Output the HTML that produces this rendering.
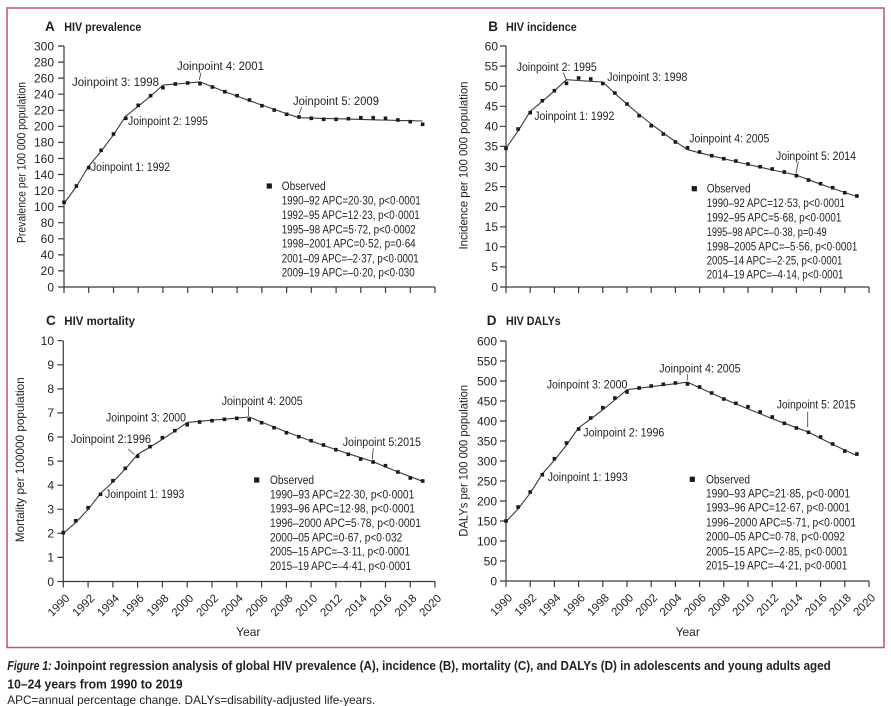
<!DOCTYPE html>
<html><head><meta charset="utf-8"><style>
html,body{margin:0;padding:0;background:#fff}
svg{display:block}
text{font-family:"Liberation Sans","DejaVu Sans",sans-serif;fill:#231f20}
.t{font-size:12px}
.tl{font-size:11.5px}
.ti{font-size:13.5px;font-weight:bold}
.tt{font-size:11.5px;font-weight:bold}
.ax{stroke:#3a3a3a;stroke-width:1.2;fill:none}
.ln{stroke:#3a3a3a;stroke-width:1.1;fill:none;stroke-linejoin:round}
.ld{stroke:#3a3a3a;stroke-width:0.8}
</style></head><body>
<svg width="891" height="706" viewBox="0 0 891 706" xmlns="http://www.w3.org/2000/svg" xmlns:xlink="http://www.w3.org/1999/xlink">
<defs>
<rect id="m" x="-1.8" y="-1.8" width="3.6" height="3.6" fill="#1a1a1a"/>
<rect id="lm" x="-2.6" y="-2.6" width="5.2" height="5.2" fill="#1a1a1a"/>
</defs>
<rect x="0" y="0" width="891" height="706" fill="#fff"/>
<rect x="7" y="8" width="877" height="639.5" fill="none" stroke="#c4506e" stroke-width="1.5"/>

<!-- ================= PANEL A ================= -->
<text x="45" y="31" class="ti">A</text>
<text x="64.3" y="31" class="tt" textLength="77" lengthAdjust="spacingAndGlyphs">HIV prevalence</text>
<text class="t" transform="translate(25.7,162.5) rotate(-90)" text-anchor="middle" textLength="161" lengthAdjust="spacingAndGlyphs">Prevalence per 100 000 population</text>
<path class="ax" d="M64 46V287H435"/>
<path class="ax" d="M58 287h6M58 270.9h6M58 254.9h6M58 238.8h6M58 222.7h6M58 206.7h6M58 190.6h6M58 174.5h6M58 158.5h6M58 142.4h6M58 126.3h6M58 110.3h6M58 94.2h6M58 78.1h6M58 62.1h6M58 46h6"/>
<path class="ax" d="M64 287v6M88.7 287v6M113.5 287v6M138.2 287v6M162.9 287v6M187.7 287v6M212.4 287v6M237.1 287v6M261.9 287v6M286.6 287v6M311.3 287v6M336.1 287v6M360.8 287v6M385.5 287v6M410.3 287v6M435 287v6"/>
<g class="t" text-anchor="end">
<text x="54" y="291.3">0</text><text x="54" y="275.2">20</text><text x="54" y="259.2">40</text><text x="54" y="243.1">60</text><text x="54" y="227">80</text><text x="54" y="211">100</text><text x="54" y="194.9">120</text><text x="54" y="178.8">140</text><text x="54" y="162.8">160</text><text x="54" y="146.7">180</text><text x="54" y="130.6">200</text><text x="54" y="114.6">220</text><text x="54" y="98.5">240</text><text x="54" y="82.4">260</text><text x="54" y="66.4">280</text><text x="54" y="50.3">300</text>
</g>
<polyline class="ln" points="64,203.5 76.4,186.5 88.7,166.1 101.1,151.3 113.5,134.8 125.8,116.1 138.2,106.3 150.6,96.1 162.9,85.1 175.3,84.1 187.7,83 200,81.9 212.4,86.8 224.8,91.6 237.1,96.1 249.5,100.7 261.9,105.1 274.2,109.4 286.6,113.6 299,117.7 311.3,118.1 323.7,118.4 336.1,118.7 348.4,119.1 360.8,119.4 373.2,119.8 385.5,120.1 397.9,120.4 410.3,120.7 422.6,121"/>
<g>
<use xlink:href="#m" x="64" y="202.3"/><use xlink:href="#m" x="76.4" y="186"/><use xlink:href="#m" x="88.7" y="167.7"/><use xlink:href="#m" x="101.1" y="150.3"/><use xlink:href="#m" x="113.5" y="134"/><use xlink:href="#m" x="125.8" y="118.3"/><use xlink:href="#m" x="138.2" y="105.3"/><use xlink:href="#m" x="150.6" y="95.7"/><use xlink:href="#m" x="162.9" y="87.7"/><use xlink:href="#m" x="175.3" y="84"/><use xlink:href="#m" x="187.7" y="83"/><use xlink:href="#m" x="200" y="83.7"/><use xlink:href="#m" x="212.4" y="87"/><use xlink:href="#m" x="224.8" y="91.7"/><use xlink:href="#m" x="237.1" y="95.7"/><use xlink:href="#m" x="249.5" y="100"/><use xlink:href="#m" x="261.9" y="105.7"/><use xlink:href="#m" x="274.2" y="110"/><use xlink:href="#m" x="286.6" y="114.3"/><use xlink:href="#m" x="299" y="117"/><use xlink:href="#m" x="311.3" y="118.3"/><use xlink:href="#m" x="323.7" y="119.3"/><use xlink:href="#m" x="336.1" y="119.3"/><use xlink:href="#m" x="348.4" y="118.7"/><use xlink:href="#m" x="360.8" y="117.7"/><use xlink:href="#m" x="373.2" y="117.7"/><use xlink:href="#m" x="385.5" y="118.3"/><use xlink:href="#m" x="397.9" y="120"/><use xlink:href="#m" x="410.3" y="121.7"/><use xlink:href="#m" x="422.6" y="124.3"/>
</g>
<g class="tl">
<text x="91" y="171" textLength="79" lengthAdjust="spacingAndGlyphs">Joinpoint 1: 1992</text>
<text x="128" y="125" textLength="80" lengthAdjust="spacingAndGlyphs">Joinpoint 2: 1995</text>
<text x="72" y="86" textLength="87" lengthAdjust="spacingAndGlyphs">Joinpoint 3: 1998</text>
<text x="177" y="70" textLength="87" lengthAdjust="spacingAndGlyphs">Joinpoint 4: 2001</text>
<text x="293" y="105" textLength="86" lengthAdjust="spacingAndGlyphs">Joinpoint 5: 2009</text>
</g>
<path class="ld" d="M201 72.7L199.3 80M301.7 107L299.3 114"/>
<use xlink:href="#lm" x="269.3" y="186"/>
<g class="tl">
<text x="281.7" y="190" textLength="44" lengthAdjust="spacingAndGlyphs">Observed</text>
<text x="281.7" y="204.7" textLength="139" lengthAdjust="spacingAndGlyphs">1990–92 APC=20·30, p&lt;0·0001</text>
<text x="281.7" y="219" textLength="138" lengthAdjust="spacingAndGlyphs">1992–95 APC=12·23, p&lt;0·0001</text>
<text x="281.7" y="233.3" textLength="134" lengthAdjust="spacingAndGlyphs">1995–98 APC=5·72, p&lt;0·0002</text>
<text x="281.7" y="247.7" textLength="134" lengthAdjust="spacingAndGlyphs">1998–2001 APC=0·52, p=0·64</text>
<text x="281.7" y="262.3" textLength="137" lengthAdjust="spacingAndGlyphs">2001–09 APC=–2·37, p&lt;0·0001</text>
<text x="281.7" y="276.3" textLength="133" lengthAdjust="spacingAndGlyphs">2009–19 APC=–0·20, p&lt;0·030</text>
</g>

<!-- ================= PANEL B ================= -->
<text x="488.3" y="31" class="ti">B</text>
<text x="506" y="31" class="tt" textLength="70.7" lengthAdjust="spacingAndGlyphs">HIV incidence</text>
<text class="t" transform="translate(467.3,165.5) rotate(-90)" text-anchor="middle" textLength="168" lengthAdjust="spacingAndGlyphs">Incidence per 100 000 population</text>
<path class="ax" d="M506 46V287H869"/>
<path class="ax" d="M500 287h6M500 266.9h6M500 246.8h6M500 226.8h6M500 206.7h6M500 186.6h6M500 166.5h6M500 146.4h6M500 126.3h6M500 106.3h6M500 86.2h6M500 66.1h6M500 46h6"/>
<path class="ax" d="M506 287v6M530.2 287v6M554.4 287v6M578.6 287v6M602.8 287v6M627 287v6M651.2 287v6M675.4 287v6M699.6 287v6M723.8 287v6M748 287v6M772.2 287v6M796.4 287v6M820.6 287v6M844.8 287v6M869 287v6"/>
<g class="t" text-anchor="end">
<text x="498" y="291.3">0</text><text x="498" y="271.2">5</text><text x="498" y="251.1">10</text><text x="498" y="231.1">15</text><text x="498" y="211">20</text><text x="498" y="190.9">25</text><text x="498" y="170.8">30</text><text x="498" y="150.7">35</text><text x="498" y="130.6">40</text><text x="498" y="110.6">45</text><text x="498" y="90.5">50</text><text x="498" y="70.4">55</text><text x="498" y="50.3">60</text>
</g>
<polyline class="ln" points="506,148.3 518.1,130.9 530.2,111.3 542.3,101.4 554.4,90.8 566.5,79.7 578.6,80.5 590.7,81.3 602.8,82 614.9,93.4 627,104.2 639.1,114.4 651.2,124 663.3,133 675.4,141.6 687.5,149.7 699.6,152.8 711.7,155.8 723.8,158.7 735.9,161.6 748,164.5 760.1,167.2 772.2,169.9 784.3,172.5 796.4,175.1 808.5,179.7 820.6,184.2 832.7,188.4 844.8,192.5 856.9,196.5"/>
<g>
<use xlink:href="#m" x="506" y="148.3"/><use xlink:href="#m" x="518.1" y="129"/><use xlink:href="#m" x="530.2" y="112.7"/><use xlink:href="#m" x="542.3" y="100.7"/><use xlink:href="#m" x="554.4" y="90.7"/><use xlink:href="#m" x="566.5" y="83.3"/><use xlink:href="#m" x="578.6" y="78"/><use xlink:href="#m" x="590.7" y="79"/><use xlink:href="#m" x="602.8" y="83.5"/><use xlink:href="#m" x="614.9" y="93"/><use xlink:href="#m" x="627" y="104"/><use xlink:href="#m" x="639.1" y="115.7"/><use xlink:href="#m" x="651.2" y="125.7"/><use xlink:href="#m" x="663.3" y="134"/><use xlink:href="#m" x="675.4" y="142"/><use xlink:href="#m" x="687.5" y="147.7"/><use xlink:href="#m" x="699.6" y="152"/><use xlink:href="#m" x="711.7" y="155.7"/><use xlink:href="#m" x="723.8" y="158.7"/><use xlink:href="#m" x="735.9" y="161"/><use xlink:href="#m" x="748" y="164"/><use xlink:href="#m" x="760.1" y="166.7"/><use xlink:href="#m" x="772.2" y="169"/><use xlink:href="#m" x="784.3" y="172"/><use xlink:href="#m" x="796.4" y="175.7"/><use xlink:href="#m" x="808.5" y="180"/><use xlink:href="#m" x="820.6" y="183.7"/><use xlink:href="#m" x="832.7" y="187.7"/><use xlink:href="#m" x="844.8" y="192.7"/><use xlink:href="#m" x="856.9" y="196"/>
</g>
<g class="tl">
<text x="534.3" y="120" textLength="80" lengthAdjust="spacingAndGlyphs">Joinpoint 1: 1992</text>
<text x="516.7" y="71" textLength="80" lengthAdjust="spacingAndGlyphs">Joinpoint 2: 1995</text>
<text x="607.3" y="81" textLength="80" lengthAdjust="spacingAndGlyphs">Joinpoint 3: 1998</text>
<text x="689.3" y="142.5" textLength="80" lengthAdjust="spacingAndGlyphs">Joinpoint 4: 2005</text>
<text x="776" y="160" textLength="80" lengthAdjust="spacingAndGlyphs">Joinpoint 5: 2014</text>
</g>
<path class="ld" d="M563.3 72.7L566 79.3M798.3 161.7L796 173.3"/>
<use xlink:href="#lm" x="694.3" y="188.7"/>
<g class="tl">
<text x="706.7" y="192.5" textLength="44" lengthAdjust="spacingAndGlyphs">Observed</text>
<text x="706.7" y="207" textLength="138.3" lengthAdjust="spacingAndGlyphs">1990–92 APC=12·53, p&lt;0·0001</text>
<text x="706.7" y="221.3" textLength="134.7" lengthAdjust="spacingAndGlyphs">1992–95 APC=5·68, p&lt;0·0001</text>
<text x="706.7" y="236" textLength="120" lengthAdjust="spacingAndGlyphs">1995–98 APC=–0·38, p=0·49</text>
<text x="706.7" y="250.7" textLength="150.7" lengthAdjust="spacingAndGlyphs">1998–2005 APC=–5·56, p&lt;0·0001</text>
<text x="706.7" y="264.7" textLength="135.7" lengthAdjust="spacingAndGlyphs">2005–14 APC=–2·25, p&lt;0·0001</text>
<text x="706.7" y="278.7" textLength="136.7" lengthAdjust="spacingAndGlyphs">2014–19 APC=–4·14, p&lt;0·0001</text>
</g>

<!-- ================= PANEL C ================= -->
<text x="46" y="325" class="ti">C</text>
<text x="64.3" y="325" class="tt" textLength="70.7" lengthAdjust="spacingAndGlyphs">HIV mortality</text>
<text class="t" transform="translate(24,459.8) rotate(-90)" text-anchor="middle" textLength="165" lengthAdjust="spacingAndGlyphs">Mortality per 100000 population</text>
<path class="ax" d="M63.3 340.7V581.5H435"/>
<path class="ax" d="M57.5 581.5h5.8M57.5 557.4h5.8M57.5 533.3h5.8M57.5 509.3h5.8M57.5 485.2h5.8M57.5 461.1h5.8M57.5 437h5.8M57.5 412.9h5.8M57.5 388.9h5.8M57.5 364.8h5.8M57.5 340.7h5.8"/>
<path class="ax" d="M63.3 581.5v6M88.1 581.5v6M112.9 581.5v6M137.6 581.5v6M162.4 581.5v6M187.2 581.5v6M212 581.5v6M236.8 581.5v6M261.6 581.5v6M286.4 581.5v6M311.1 581.5v6M335.9 581.5v6M360.7 581.5v6M385.5 581.5v6M410.3 581.5v6M435 581.5v6"/>
<g class="t" text-anchor="end">
<text x="54" y="585.8">0</text><text x="54" y="561.7">1</text><text x="54" y="537.6">2</text><text x="54" y="513.6">3</text><text x="54" y="489.5">4</text><text x="54" y="465.4">5</text><text x="54" y="441.3">6</text><text x="54" y="417.2">7</text><text x="54" y="393.2">8</text><text x="54" y="369.1">9</text><text x="54" y="345">10</text>
</g>
<g class="tl" text-anchor="end">
<text transform="translate(70.3,599) rotate(-45)">1990</text>
<text transform="translate(95.1,599) rotate(-45)">1992</text>
<text transform="translate(119.9,599) rotate(-45)">1994</text>
<text transform="translate(144.6,599) rotate(-45)">1996</text>
<text transform="translate(169.4,599) rotate(-45)">1998</text>
<text transform="translate(194.2,599) rotate(-45)">2000</text>
<text transform="translate(219,599) rotate(-45)">2002</text>
<text transform="translate(243.8,599) rotate(-45)">2004</text>
<text transform="translate(268.6,599) rotate(-45)">2006</text>
<text transform="translate(293.4,599) rotate(-45)">2008</text>
<text transform="translate(318.1,599) rotate(-45)">2010</text>
<text transform="translate(342.9,599) rotate(-45)">2012</text>
<text transform="translate(367.7,599) rotate(-45)">2014</text>
<text transform="translate(392.5,599) rotate(-45)">2016</text>
<text transform="translate(417.3,599) rotate(-45)">2018</text>
<text transform="translate(442,599) rotate(-45)">2020</text>
</g>
<text x="248.3" y="636" class="t" text-anchor="middle">Year</text>
<polyline class="ln" points="63.3,533.3 75.7,522.6 88.1,509.5 100.5,493.4 112.9,482 125.3,469 137.6,454.4 150,447.1 162.4,439.3 174.8,431.1 187.2,422.4 199.6,421.3 212,420.2 224.4,419.2 236.8,418.1 249.2,417 261.6,422.1 274,427 286.4,431.9 298.8,436.5 311.1,441 323.5,445.4 335.9,449.6 348.3,453.7 360.7,457.7 373.1,461.6 385.5,466.9 397.9,471.9 410.3,476.7 422.7,481.3"/>
<g>
<use xlink:href="#m" x="63.3" y="532.7"/><use xlink:href="#m" x="75.7" y="520.7"/><use xlink:href="#m" x="88.1" y="507.7"/><use xlink:href="#m" x="100.5" y="494.3"/><use xlink:href="#m" x="112.9" y="480.7"/><use xlink:href="#m" x="125.3" y="468.3"/><use xlink:href="#m" x="137.6" y="456.3"/><use xlink:href="#m" x="150" y="446.7"/><use xlink:href="#m" x="162.4" y="437.7"/><use xlink:href="#m" x="174.8" y="430.7"/><use xlink:href="#m" x="187.2" y="424.7"/><use xlink:href="#m" x="199.6" y="422"/><use xlink:href="#m" x="212" y="420.7"/><use xlink:href="#m" x="224.4" y="419.3"/><use xlink:href="#m" x="236.8" y="418.3"/><use xlink:href="#m" x="249.2" y="419.7"/><use xlink:href="#m" x="261.6" y="422.7"/><use xlink:href="#m" x="274" y="427.7"/><use xlink:href="#m" x="286.4" y="432.7"/><use xlink:href="#m" x="298.8" y="436.7"/><use xlink:href="#m" x="311.1" y="440.7"/><use xlink:href="#m" x="323.5" y="445"/><use xlink:href="#m" x="335.9" y="449.7"/><use xlink:href="#m" x="348.3" y="454.3"/><use xlink:href="#m" x="360.7" y="459"/><use xlink:href="#m" x="373.1" y="462"/><use xlink:href="#m" x="385.5" y="465.7"/><use xlink:href="#m" x="397.9" y="472"/><use xlink:href="#m" x="410.3" y="478"/><use xlink:href="#m" x="422.7" y="481"/>
</g>
<g class="tl">
<text x="105" y="498" textLength="79.3" lengthAdjust="spacingAndGlyphs">Joinpoint 1: 1993</text>
<text x="70.7" y="443" textLength="80.3" lengthAdjust="spacingAndGlyphs">Joinpoint 2:1996</text>
<text x="106" y="421.5" textLength="80" lengthAdjust="spacingAndGlyphs">Joinpoint 3: 2000</text>
<text x="221.7" y="405" textLength="81" lengthAdjust="spacingAndGlyphs">Joinpoint 4: 2005</text>
<text x="342.7" y="446" textLength="78.3" lengthAdjust="spacingAndGlyphs">Joinpoint 5:2015</text>
</g>
<path class="ld" d="M128.3 449L134.3 454.5M248.5 406.5V416M373.3 448.3L372.3 459.3"/>
<use xlink:href="#lm" x="256.7" y="480"/>
<g class="tl">
<text x="270" y="484" textLength="44" lengthAdjust="spacingAndGlyphs">Observed</text>
<text x="270" y="498.3" textLength="144.3" lengthAdjust="spacingAndGlyphs">1990–93 APC=22·30, p&lt;0·0001</text>
<text x="270" y="512.7" textLength="145" lengthAdjust="spacingAndGlyphs">1993–96 APC=12·98, p&lt;0·0001</text>
<text x="270" y="527" textLength="151" lengthAdjust="spacingAndGlyphs">1996–2000 APC=5·78, p&lt;0·0001</text>
<text x="270" y="541.3" textLength="132.3" lengthAdjust="spacingAndGlyphs">2000–05 APC=0·67, p&lt;0·032</text>
<text x="270" y="555.7" textLength="140" lengthAdjust="spacingAndGlyphs">2005–15 APC=–3·11, p&lt;0·0001</text>
<text x="270" y="570" textLength="141" lengthAdjust="spacingAndGlyphs">2015–19 APC=–4·41, p&lt;0·0001</text>
</g>

<!-- ================= PANEL D ================= -->
<text x="486.7" y="325" class="ti">D</text>
<text x="506" y="325" class="tt" textLength="54.7" lengthAdjust="spacingAndGlyphs">HIV DALYs</text>
<text class="t" transform="translate(467.3,460.8) rotate(-90)" text-anchor="middle" textLength="151.7" lengthAdjust="spacingAndGlyphs">DALYs per 100 000 population</text>
<path class="ax" d="M506 341V581H869"/>
<path class="ax" d="M500 581h6M500 561h6M500 541h6M500 521h6M500 501h6M500 481h6M500 461h6M500 441h6M500 421h6M500 401h6M500 381h6M500 361h6M500 341h6"/>
<path class="ax" d="M506 581v6M530.2 581v6M554.4 581v6M578.6 581v6M602.8 581v6M627 581v6M651.2 581v6M675.4 581v6M699.6 581v6M723.8 581v6M748 581v6M772.2 581v6M796.4 581v6M820.6 581v6M844.8 581v6M869 581v6"/>
<g class="t" text-anchor="end">
<text x="497" y="585.3">0</text><text x="497" y="565.3">50</text><text x="497" y="545.3">100</text><text x="497" y="525.3">150</text><text x="497" y="505.3">200</text><text x="497" y="485.3">250</text><text x="497" y="465.3">300</text><text x="497" y="445.3">350</text><text x="497" y="425.3">400</text><text x="497" y="405.3">450</text><text x="497" y="385.3">500</text><text x="497" y="365.3">550</text><text x="497" y="345.3">600</text>
</g>
<g class="tl" text-anchor="end">
<text transform="translate(513,598.5) rotate(-45)">1990</text>
<text transform="translate(537.2,598.5) rotate(-45)">1992</text>
<text transform="translate(561.4,598.5) rotate(-45)">1994</text>
<text transform="translate(585.6,598.5) rotate(-45)">1996</text>
<text transform="translate(609.8,598.5) rotate(-45)">1998</text>
<text transform="translate(634,598.5) rotate(-45)">2000</text>
<text transform="translate(658.2,598.5) rotate(-45)">2002</text>
<text transform="translate(682.4,598.5) rotate(-45)">2004</text>
<text transform="translate(706.6,598.5) rotate(-45)">2006</text>
<text transform="translate(730.8,598.5) rotate(-45)">2008</text>
<text transform="translate(755,598.5) rotate(-45)">2010</text>
<text transform="translate(779.2,598.5) rotate(-45)">2012</text>
<text transform="translate(803.4,598.5) rotate(-45)">2014</text>
<text transform="translate(827.6,598.5) rotate(-45)">2016</text>
<text transform="translate(851.8,598.5) rotate(-45)">2018</text>
<text transform="translate(876,598.5) rotate(-45)">2020</text>
</g>
<text x="687.7" y="636" class="t" text-anchor="middle">Year</text>
<polyline class="ln" points="506,521.8 518.1,508.9 530.2,493.1 542.3,473.9 554.4,460.3 566.5,445 578.6,427.8 590.7,419 602.8,409.8 614.9,400 627,389.7 639.1,388.2 651.2,386.7 663.3,385.2 675.4,383.7 687.5,382.2 699.6,387.8 711.7,393.3 723.8,398.7 735.9,403.9 748,408.9 760.1,413.8 772.2,418.6 784.3,423.2 796.4,427.7 808.5,432.1 820.6,438.4 832.7,444.4 844.8,450.1 856.9,455.6"/>
<g>
<use xlink:href="#m" x="506" y="521"/><use xlink:href="#m" x="518.1" y="507"/><use xlink:href="#m" x="530.2" y="492"/><use xlink:href="#m" x="542.3" y="474.7"/><use xlink:href="#m" x="554.4" y="458.7"/><use xlink:href="#m" x="566.5" y="443"/><use xlink:href="#m" x="578.6" y="429"/><use xlink:href="#m" x="590.7" y="418"/><use xlink:href="#m" x="602.8" y="407.7"/><use xlink:href="#m" x="614.9" y="398"/><use xlink:href="#m" x="627" y="392"/><use xlink:href="#m" x="639.1" y="388"/><use xlink:href="#m" x="651.2" y="386"/><use xlink:href="#m" x="663.3" y="384.3"/><use xlink:href="#m" x="675.4" y="383"/><use xlink:href="#m" x="687.5" y="384"/><use xlink:href="#m" x="699.6" y="387"/><use xlink:href="#m" x="711.7" y="393"/><use xlink:href="#m" x="723.8" y="399"/><use xlink:href="#m" x="735.9" y="403.3"/><use xlink:href="#m" x="748" y="406.7"/><use xlink:href="#m" x="760.1" y="412"/><use xlink:href="#m" x="772.2" y="417"/><use xlink:href="#m" x="784.3" y="423.3"/><use xlink:href="#m" x="796.4" y="428"/><use xlink:href="#m" x="808.5" y="432.3"/><use xlink:href="#m" x="820.6" y="437"/><use xlink:href="#m" x="832.7" y="444"/><use xlink:href="#m" x="844.8" y="451"/><use xlink:href="#m" x="856.9" y="454"/>
</g>
<g class="tl">
<text x="547.7" y="481" textLength="80" lengthAdjust="spacingAndGlyphs">Joinpoint 1: 1993</text>
<text x="583.3" y="436.5" textLength="81" lengthAdjust="spacingAndGlyphs">Joinpoint 2: 1996</text>
<text x="546.7" y="388.5" textLength="80.7" lengthAdjust="spacingAndGlyphs">Joinpoint 3: 2000</text>
<text x="659.3" y="372.5" textLength="81.3" lengthAdjust="spacingAndGlyphs">Joinpoint 4: 2005</text>
<text x="776.7" y="408.5" textLength="79" lengthAdjust="spacingAndGlyphs">Joinpoint 5: 2015</text>
</g>
<path class="ld" d="M687.3 374V380.5M807.7 411.7V427.3"/>
<use xlink:href="#lm" x="692.3" y="479.3"/>
<g class="tl">
<text x="706" y="483.3" textLength="44" lengthAdjust="spacingAndGlyphs">Observed</text>
<text x="706" y="497.3" textLength="144" lengthAdjust="spacingAndGlyphs">1990–93 APC=21·85, p&lt;0·0001</text>
<text x="706" y="511.7" textLength="144" lengthAdjust="spacingAndGlyphs">1993–96 APC=12·67, p&lt;0·0001</text>
<text x="706" y="526.3" textLength="150" lengthAdjust="spacingAndGlyphs">1996–2000 APC=5·71, p&lt;0·0001</text>
<text x="706" y="540.7" textLength="139" lengthAdjust="spacingAndGlyphs">2000–05 APC=0·78, p&lt;0·0092</text>
<text x="706" y="555.3" textLength="141.7" lengthAdjust="spacingAndGlyphs">2005–15 APC=–2·85, p&lt;0·0001</text>
<text x="706" y="569.7" textLength="141.3" lengthAdjust="spacingAndGlyphs">2015–19 APC=–4·21, p&lt;0·0001</text>
</g>

<!-- ================= CAPTION ================= -->
<text x="7.3" y="670" font-size="12.5" font-weight="bold" font-style="italic" textLength="44.4" lengthAdjust="spacingAndGlyphs">Figure 1:</text>
<text x="54" y="670" font-size="12.5" font-weight="bold" textLength="776.7" lengthAdjust="spacingAndGlyphs">Joinpoint regression analysis of global HIV prevalence (A), incidence (B), mortality (C), and DALYs (D) in adolescents and young adults aged</text>
<text x="7.3" y="688.5" font-size="12.5" font-weight="bold" textLength="175.4" lengthAdjust="spacingAndGlyphs">10–24 years from 1990 to 2019</text>
<text x="7.3" y="704" font-size="12" textLength="368" lengthAdjust="spacingAndGlyphs">APC=annual percentage change. DALYs=disability-adjusted life-years.</text>
</svg>
</body></html>
